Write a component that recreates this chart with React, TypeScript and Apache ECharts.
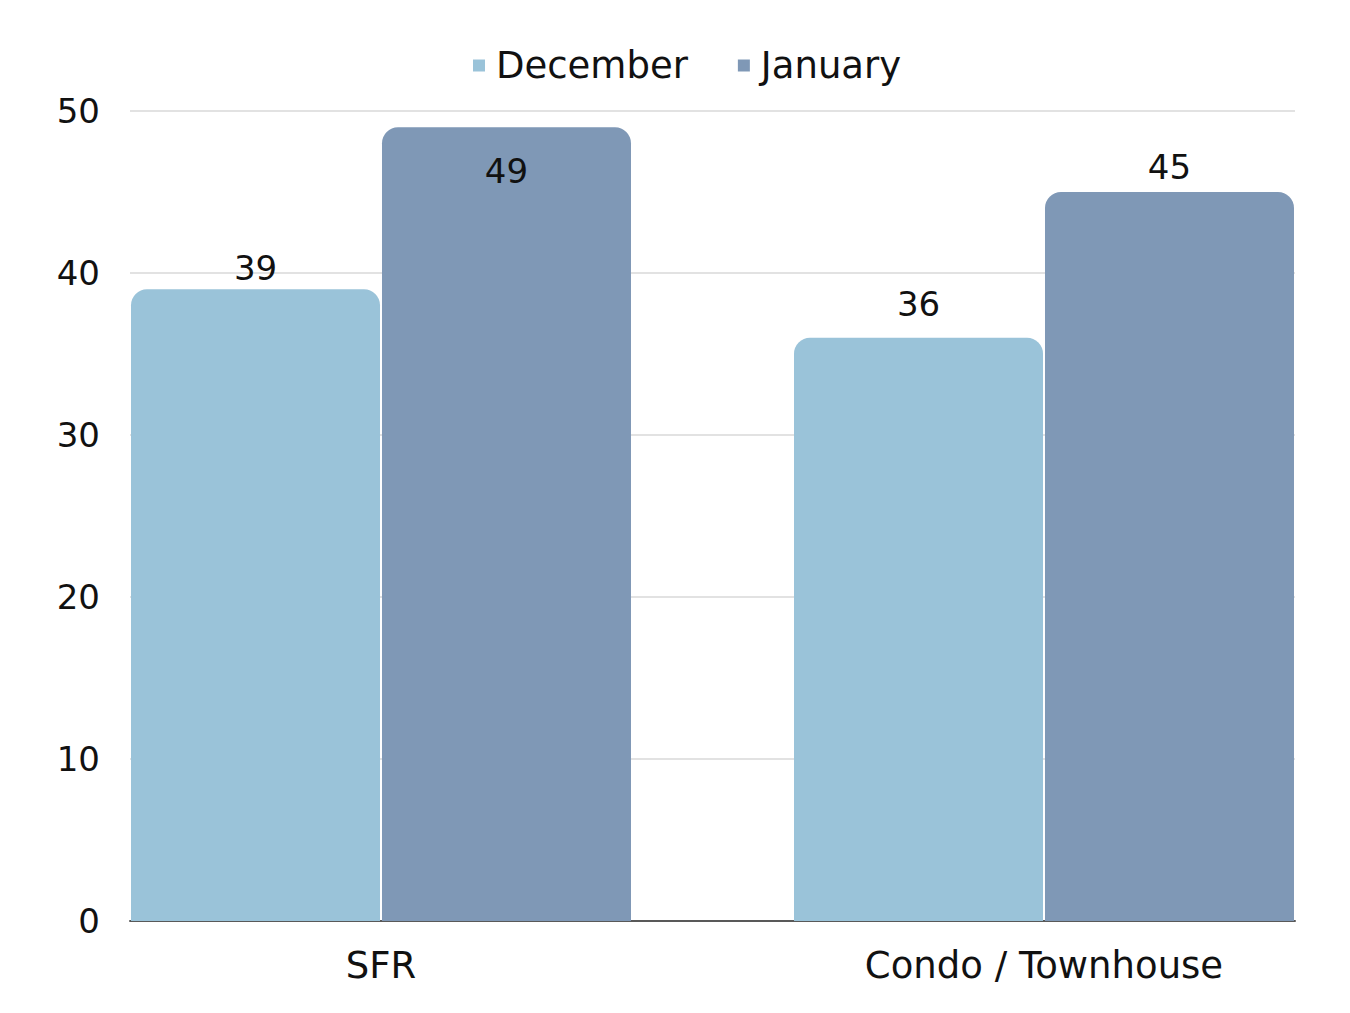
import React, { useEffect, useRef } from "react";
import * as echarts from "echarts";

const categories = ["SFR", "Condo / Townhouse"];
const december = [39, 36];
const january = [49, 45];
const seriesNames = ["December", "January"];
const yTicks = { min: 0, max: 50, interval: 10 };

const FONT = "'DejaVu Sans', sans-serif";
const DEC_COLOR = "#9ac3d9";
const JAN_COLOR = "#7f98b6";

export default function App() {
  const ref = useRef<HTMLDivElement>(null);
  useEffect(() => {
    if (!ref.current) return;
    const chart = echarts.init(ref.current, null, { renderer: "svg" });
    const labelBase = {
      show: true,
      color: "#111",
      fontSize: 34,
      fontFamily: FONT,
      position: "top" as const,
      distance: 6,
    };
    const decDist = [4, 17];
    const janLabel = [
      { position: "insideTop", distance: 27 },
      { position: "top", distance: 8 },
    ];
    chart.setOption({
      animation: false,
      backgroundColor: "#ffffff",
      textStyle: { fontFamily: FONT },
      legend: {
        top: 42,
        left: 468,
        itemWidth: 12,
        itemHeight: 12,
        itemGap: 50,
        icon: "rect",
        textStyle: { fontSize: 37, color: "#111", fontFamily: FONT, padding: [0, 0, 0, 6] },
        data: seriesNames,
      },
      grid: [
        { left: 130, width: 1165, top: 111, height: 810 },
        { left: 381, width: 663, top: 111, height: 810 },
      ],
      xAxis: [
        {
          gridIndex: 0,
          type: "category",
          data: categories,
          axisLine: { show: true, lineStyle: { color: "#595959", width: 2 } },
          axisTick: { show: false },
          axisLabel: { show: false },
          splitLine: { show: false },
        },
        {
          gridIndex: 1,
          type: "category",
          boundaryGap: false,
          data: categories,
          axisLine: { show: false },
          axisTick: { show: false },
          splitLine: { show: false },
          axisLabel: { show: true, fontSize: 37, color: "#111", fontFamily: FONT, margin: 26 },
        },
      ],
      yAxis: [
        {
          gridIndex: 0,
          type: "value",
          min: yTicks.min,
          max: yTicks.max,
          interval: yTicks.interval,
          axisLine: { show: false },
          axisTick: { show: false },
          axisLabel: { fontSize: 34, color: "#111", fontFamily: FONT, margin: 30 },
          splitLine: { lineStyle: { color: "#d9d9d9", width: 1.5 } },
        },
        {
          gridIndex: 1,
          type: "value",
          min: yTicks.min,
          max: yTicks.max,
          interval: yTicks.interval,
          show: false,
        },
      ],
      series: [
        {
          name: "December",
          type: "bar",
          xAxisIndex: 1,
          yAxisIndex: 1,
          barWidth: 249,
          barGap: "0.8%",
          itemStyle: { color: DEC_COLOR, borderRadius: [16, 16, 0, 0] },
          label: labelBase,
          data: december.map((v, i) => ({ value: v, label: { distance: decDist[i] } })),
        },
        {
          name: "January",
          type: "bar",
          xAxisIndex: 1,
          yAxisIndex: 1,
          barWidth: 249,
          barGap: "0.8%",
          itemStyle: { color: JAN_COLOR, borderRadius: [16, 16, 0, 0] },
          label: labelBase,
          data: january.map((v, i) => ({ value: v, label: janLabel[i] })),
        },
      ],
    });
    return () => chart.dispose();
  }, []);
  return (
    <div
      ref={ref}
      style={{ position: "fixed", left: 0, top: 0, width: 1350, height: 1013 }}
    />
  );
}
